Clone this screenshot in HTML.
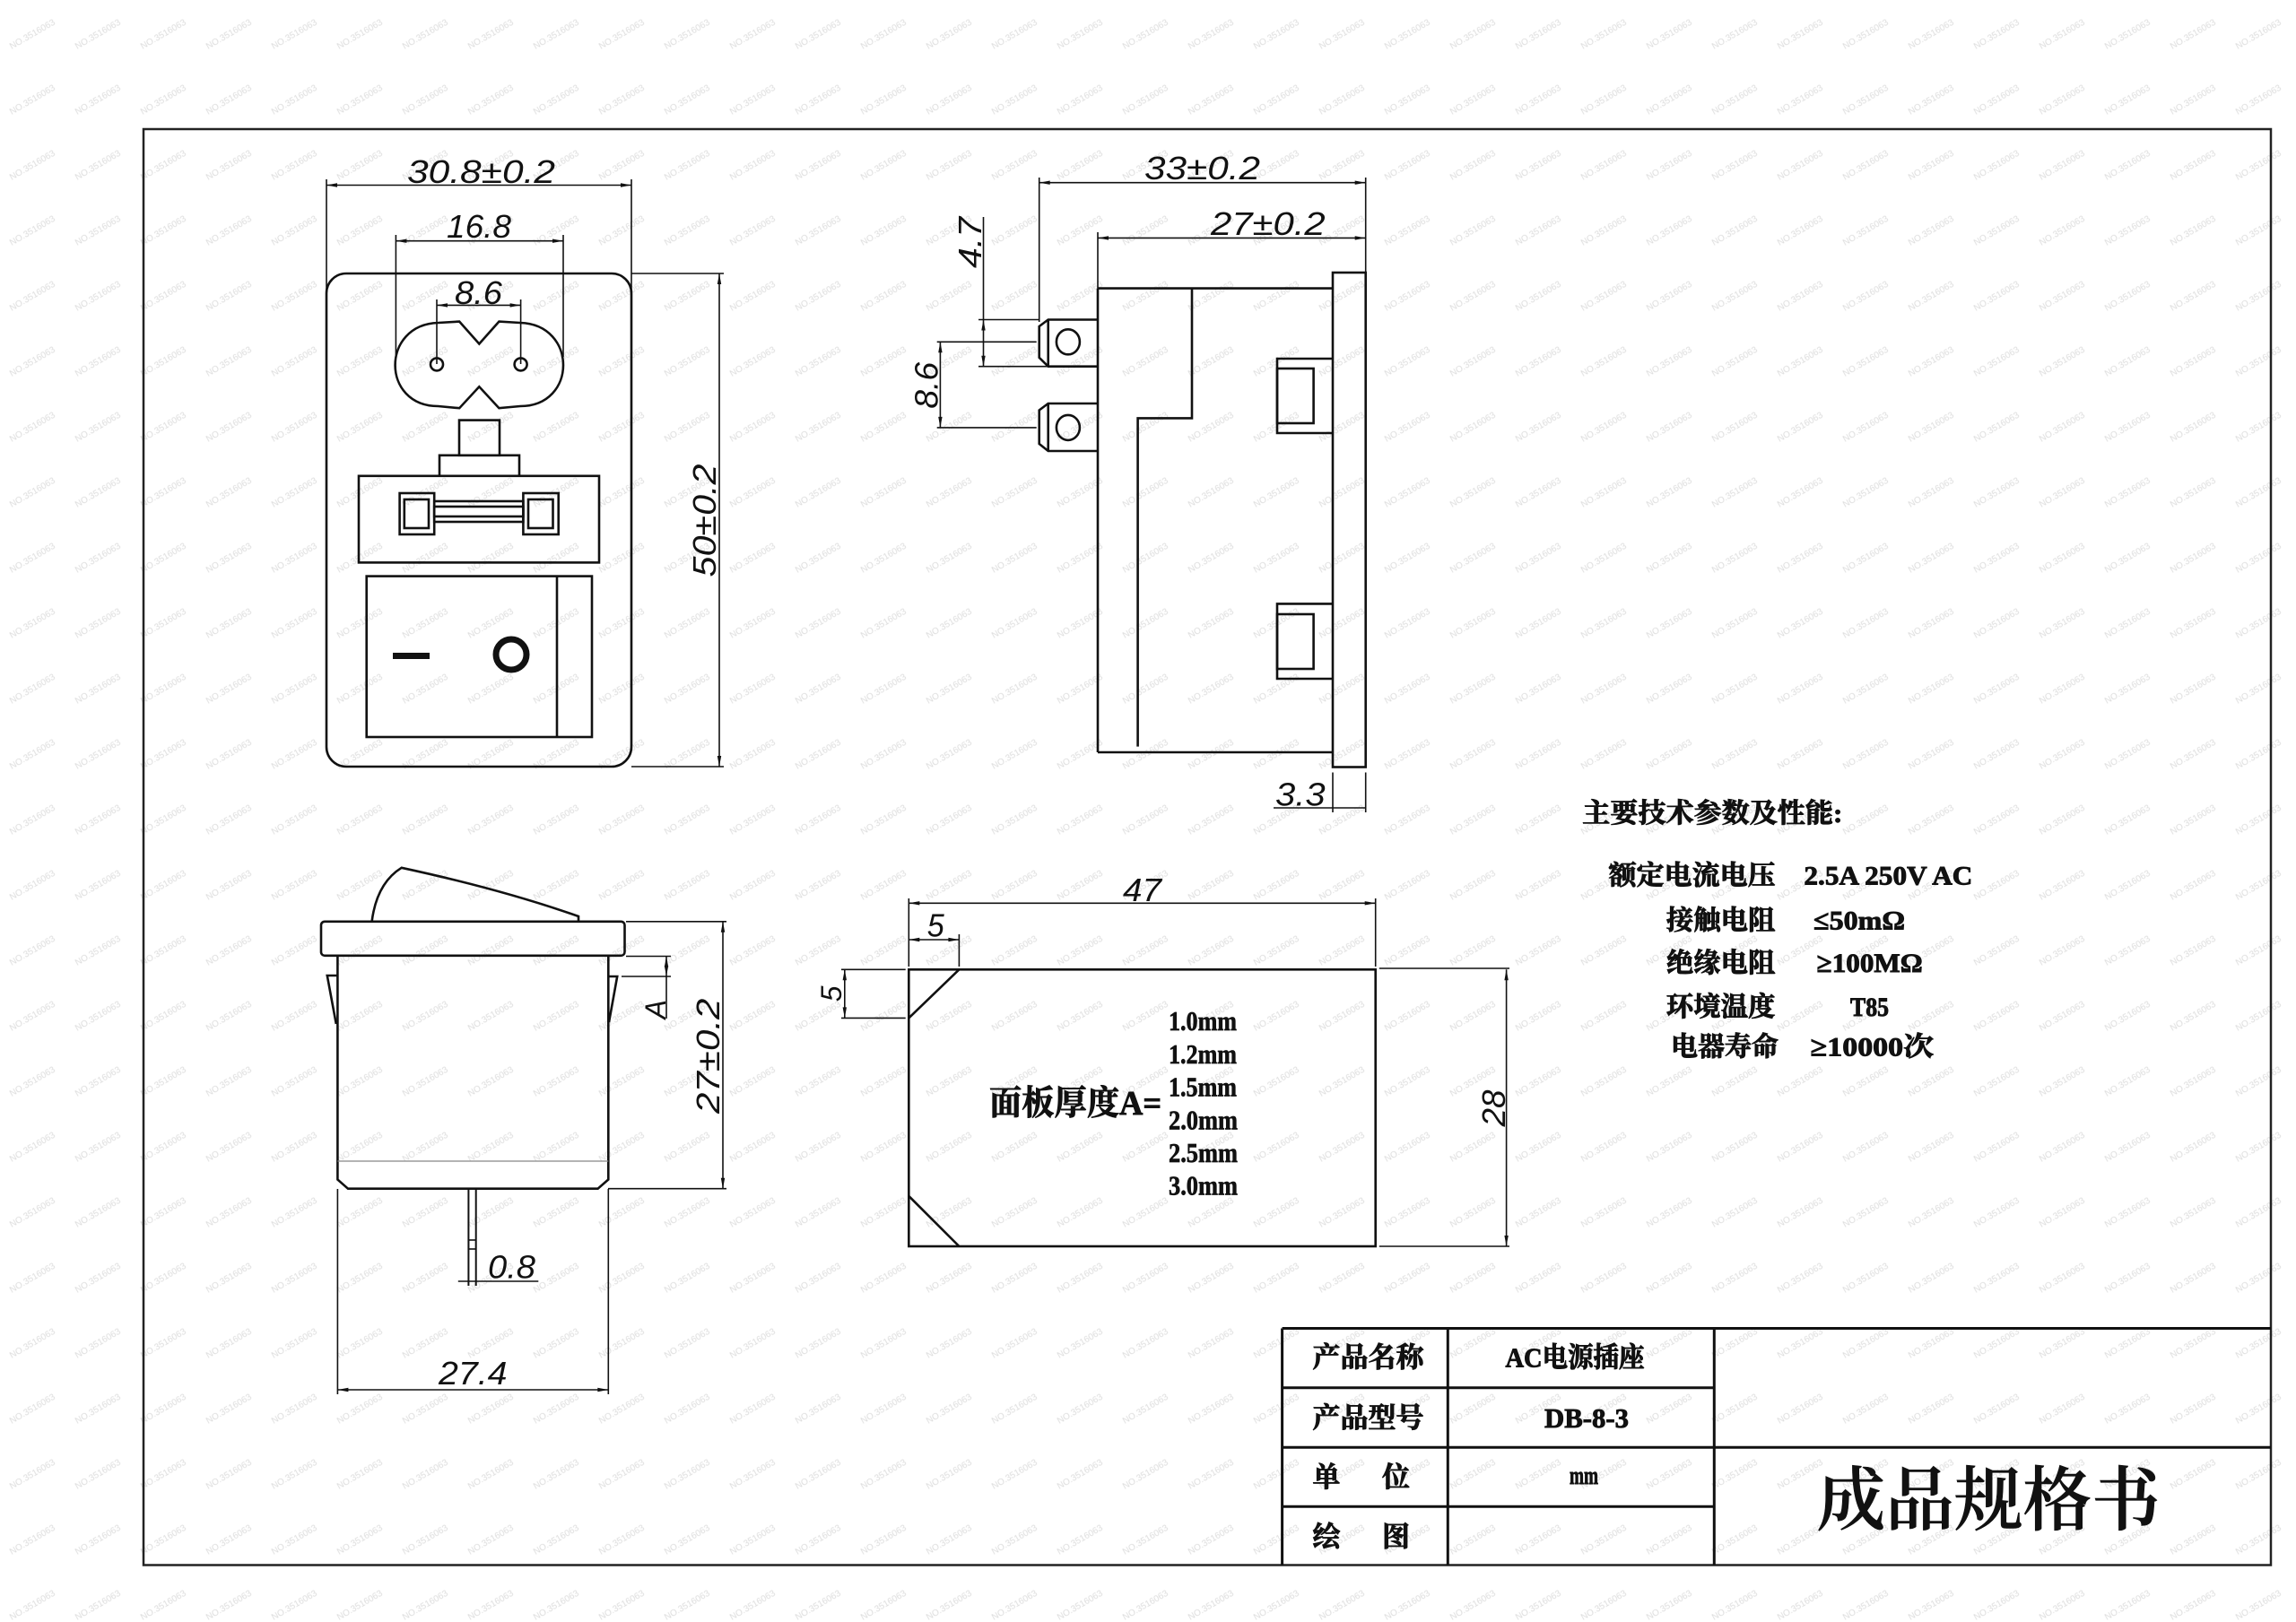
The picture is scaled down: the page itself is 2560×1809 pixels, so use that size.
<!DOCTYPE html>
<html><head><meta charset="utf-8"><style>
html,body{margin:0;padding:0;background:#fff;}
svg{display:block;}
.d{font-family:"Liberation Sans",sans-serif;font-style:italic;font-size:36px;fill:#111;}
.c{font-family:"Liberation Serif","Noto Serif CJK SC",serif;font-weight:700;fill:#111;stroke:#111;stroke-width:0.9px;}
.m{font-family:"Liberation Serif",serif;font-weight:700;fill:#111;stroke:#111;stroke-width:0.7px;}
</style></head><body>
<svg width="2560" height="1809" viewBox="0 0 2560 1809" xmlns="http://www.w3.org/2000/svg">
<defs>
<pattern id="wm" patternUnits="userSpaceOnUse" width="73" height="73" x="72.8" y="75.2">
<text x="36.5" y="36.5" transform="rotate(-30 36.5 36.5)" font-size="10" fill="#dcdcdc" text-anchor="middle" dominant-baseline="central" font-family="Liberation Sans, sans-serif">NO.3516063</text>
</pattern>
<marker id="ar" viewBox="-13 -3 14 6" refX="0" refY="0" markerWidth="14" markerHeight="6" markerUnits="userSpaceOnUse" orient="auto-start-reverse">
<path d="M0,0 L-12,-2.2 L-12,2.2 Z" fill="#111"/>
</marker>
</defs>
<rect width="2560" height="1809" fill="#fff"/>
<rect width="2560" height="1809" fill="url(#wm)"/>

<!-- frame -->
<rect x="160" y="144" width="2372" height="1601.5" fill="none" stroke="#222" stroke-width="2.5"/>

<!-- ============ FRONT VIEW ============ -->
<g fill="none" stroke="#111" stroke-width="2.6">
<rect x="364" y="305" width="340" height="550" rx="22"/>
<path d="M512.2 358.6 L534.3 383.5 L556.4 358.6 L580 360 C644 362 644 453 580 453 L556.4 455.2 L534.3 431.3 L512.2 455.2 L488.6 453 C424.6 453 424.6 362 488.6 360 Z"/>
<circle cx="487" cy="406.4" r="7"/>
<circle cx="580.6" cy="406.4" r="7"/>
<rect x="512" y="468.6" width="45" height="39.2"/>
<path d="M490 530.8 V507.8 H579 V530.8"/>
<rect x="400" y="530.8" width="268" height="96.6"/>
<rect x="445.6" y="550" width="38.6" height="46"/>
<rect x="450.8" y="557" width="27.2" height="32"/>
<rect x="583.4" y="550" width="39.3" height="46"/>
<rect x="589" y="557" width="27.5" height="32"/>
<rect x="484.2" y="559" width="99.2" height="23"/>
<rect x="484.2" y="565" width="99.2" height="11"/>
<rect x="408.7" y="642.6" width="251.3" height="179.4"/>
<line x1="621" y1="642.6" x2="621" y2="822"/>
<circle cx="570" cy="730" r="17" stroke-width="7"/>
</g>
<rect x="438" y="728" width="41" height="7" fill="#111"/>

<g fill="none" stroke="#111" stroke-width="1.6">
<line x1="364" y1="206.5" x2="704" y2="206.5" marker-start="url(#ar)" marker-end="url(#ar)"/>
<line x1="364" y1="200" x2="364" y2="327"/>
<line x1="704" y1="200" x2="704" y2="327"/>
<line x1="441.4" y1="268.7" x2="628" y2="268.7" marker-start="url(#ar)" marker-end="url(#ar)"/>
<line x1="441.4" y1="262" x2="441.4" y2="398"/>
<line x1="628" y1="262" x2="628" y2="398"/>
<line x1="487" y1="340.4" x2="580.6" y2="340.4" marker-start="url(#ar)" marker-end="url(#ar)"/>
<line x1="487" y1="334" x2="487" y2="406"/>
<line x1="580.6" y1="334" x2="580.6" y2="406"/>
<line x1="802" y1="305" x2="802" y2="855" marker-start="url(#ar)" marker-end="url(#ar)"/>
<line x1="704" y1="305" x2="807" y2="305"/>
<line x1="704" y1="855" x2="807" y2="855"/>
</g>
<text class="d" x="454" y="204" textLength="165" lengthAdjust="spacingAndGlyphs">30.8±0.2</text>
<text class="d" x="498" y="265" textLength="72" lengthAdjust="spacingAndGlyphs">16.8</text>
<text class="d" x="507" y="339" textLength="53" lengthAdjust="spacingAndGlyphs">8.6</text>
<text class="d" transform="translate(798,580.5) rotate(-90)" text-anchor="middle" textLength="126" lengthAdjust="spacingAndGlyphs">50±0.2</text>

<!-- ============ SIDE VIEW ============ -->
<g fill="none" stroke="#111" stroke-width="2.6">
<rect x="1486" y="304" width="36.7" height="551.5"/>
<path d="M1224 321.6 H1486 M1224 839 H1486 M1224 321.6 V839"/>
<path d="M1329 321.6 V466.4 H1268.6 V832.6"/>
<path d="M1486 400 H1424 V483 H1486"/>
<rect x="1424" y="411" width="40.6" height="61"/>
<path d="M1486 673.4 H1424 V757 H1486"/>
<rect x="1424" y="685" width="40.6" height="61"/>
<path d="M1224 356.5 H1168.7 L1158.7 364 V398.8 L1168.7 408.7 H1224"/>
<line x1="1168.7" y1="356.5" x2="1168.7" y2="408.7"/>
<ellipse cx="1190.9" cy="381.3" rx="13" ry="14"/>
<path d="M1224 450 H1168.7 L1158.7 457.5 V495 L1168.7 503 H1224"/>
<line x1="1168.7" y1="450" x2="1168.7" y2="503"/>
<ellipse cx="1190.9" cy="476.9" rx="13" ry="14"/>
</g>
<g fill="none" stroke="#111" stroke-width="1.6">
<line x1="1158.7" y1="203.7" x2="1522.7" y2="203.7" marker-start="url(#ar)" marker-end="url(#ar)"/>
<line x1="1224" y1="265.4" x2="1522.7" y2="265.4" marker-start="url(#ar)" marker-end="url(#ar)"/>
<line x1="1522.7" y1="198" x2="1522.7" y2="304"/>
<line x1="1158.7" y1="198" x2="1158.7" y2="359"/>
<line x1="1224" y1="259" x2="1224" y2="321.6"/>
<line x1="1096.5" y1="242" x2="1096.5" y2="356.5"/>
<line x1="1096.5" y1="356.5" x2="1096.5" y2="408.7" marker-start="url(#ar)" marker-end="url(#ar)"/>
<line x1="1091" y1="356.5" x2="1158" y2="356.5"/>
<line x1="1091" y1="408.7" x2="1168" y2="408.7"/>
<line x1="1048.4" y1="381.3" x2="1048.4" y2="476.9" marker-start="url(#ar)" marker-end="url(#ar)"/>
<line x1="1044.7" y1="381.3" x2="1155.7" y2="381.3"/>
<line x1="1044.7" y1="476.9" x2="1155.7" y2="476.9"/>
<line x1="1420" y1="901" x2="1522.7" y2="901"/>
<line x1="1486" y1="861.5" x2="1486" y2="906"/>
<line x1="1522.7" y1="861.5" x2="1522.7" y2="906"/>
</g>
<text class="d" x="1276" y="199.8" textLength="129" lengthAdjust="spacingAndGlyphs">33±0.2</text>
<text class="d" x="1350" y="262" textLength="127.6" lengthAdjust="spacingAndGlyphs">27±0.2</text>
<text class="d" transform="translate(1094,270.5) rotate(-90)" text-anchor="middle" textLength="57" lengthAdjust="spacingAndGlyphs">4.7</text>
<text class="d" transform="translate(1045.5,429.8) rotate(-90)" text-anchor="middle" textLength="52" lengthAdjust="spacingAndGlyphs">8.6</text>
<text class="d" x="1422" y="898.7" textLength="55.6" lengthAdjust="spacingAndGlyphs">3.3</text>

<!-- ============ BOTTOM-LEFT VIEW ============ -->
<g fill="none" stroke="#111" stroke-width="2.6">
<rect x="358" y="1027.8" width="338.5" height="38" rx="4"/>
<path d="M414.6 1027.8 Q420 985 447.7 967.8 Q560 992 645 1022 L645 1027.8"/>
<path d="M376.4 1065.7 V1315.5 L388 1325.7 H666.6 L678.3 1315.5 V1065.7"/>
<path d="M376.4 1088 H364.8 L374.8 1142"/>
<path d="M678.3 1089 H688.2 L679 1140"/>
<line x1="522.4" y1="1325.7" x2="522.4" y2="1434" stroke-width="2"/>
<line x1="530.7" y1="1325.7" x2="530.7" y2="1434" stroke-width="2"/>
<rect x="522.4" y="1383" width="8.3" height="10" stroke-width="1.6"/>
</g>
<line x1="376.4" y1="1295" x2="678.3" y2="1295" stroke="#888" stroke-width="1.2"/>
<g fill="none" stroke="#111" stroke-width="1.6">
<line x1="698" y1="1066.5" x2="748" y2="1066.5"/>
<line x1="693" y1="1089" x2="748" y2="1089"/>
<line x1="743" y1="1066.5" x2="743" y2="1089" marker-start="url(#ar)" marker-end="url(#ar)"/>
<line x1="743" y1="1089" x2="743" y2="1136"/>
<line x1="806" y1="1027.8" x2="806" y2="1325.7" marker-start="url(#ar)" marker-end="url(#ar)"/>
<line x1="698" y1="1027.8" x2="810" y2="1027.8"/>
<line x1="678" y1="1325.7" x2="810" y2="1325.7"/>
<line x1="510.8" y1="1429" x2="600.3" y2="1429"/>
<line x1="376.4" y1="1550" x2="678.3" y2="1550" marker-start="url(#ar)" marker-end="url(#ar)"/>
<line x1="376.4" y1="1326" x2="376.4" y2="1555"/>
<line x1="678.3" y1="1326" x2="678.3" y2="1555"/>
</g>
<text class="d" transform="translate(742,1125.7) rotate(-90)" text-anchor="middle" style="font-size:32px">A</text>
<text class="d" transform="translate(802,1177.8) rotate(-90)" text-anchor="middle" textLength="128.5" lengthAdjust="spacingAndGlyphs">27±0.2</text>
<text class="d" x="544" y="1425.7" textLength="53" lengthAdjust="spacingAndGlyphs">0.8</text>
<text class="d" x="489" y="1544" textLength="76.5" lengthAdjust="spacingAndGlyphs">27.4</text>

<!-- ============ PANEL CUTOUT ============ -->
<g fill="none" stroke="#111" stroke-width="2.6">
<rect x="1013.3" y="1081.3" width="520.4" height="308.7"/>
<line x1="1013.3" y1="1135.4" x2="1069.4" y2="1081.3"/>
<line x1="1013.3" y1="1333.9" x2="1069.4" y2="1390"/>
</g>
<g fill="none" stroke="#111" stroke-width="1.6">
<line x1="1013.3" y1="1007.3" x2="1533.7" y2="1007.3" marker-start="url(#ar)" marker-end="url(#ar)"/>
<line x1="1013.3" y1="1002" x2="1013.3" y2="1078"/>
<line x1="1533.7" y1="1002" x2="1533.7" y2="1078"/>
<line x1="1013.3" y1="1048" x2="1069.4" y2="1048" marker-start="url(#ar)" marker-end="url(#ar)"/>
<line x1="1069.4" y1="1042" x2="1069.4" y2="1078"/>
<line x1="941.8" y1="1081.3" x2="941.8" y2="1135.4" marker-start="url(#ar)" marker-end="url(#ar)"/>
<line x1="938" y1="1081.3" x2="1009.7" y2="1081.3"/>
<line x1="938" y1="1135.4" x2="1009.7" y2="1135.4"/>
<line x1="1679.6" y1="1081.3" x2="1679.6" y2="1390" marker-start="url(#ar)" marker-end="url(#ar)"/>
<line x1="1537.8" y1="1080" x2="1683" y2="1080"/>
<line x1="1537.8" y1="1390" x2="1683" y2="1390"/>
</g>
<text class="d" x="1252" y="1005" textLength="43" lengthAdjust="spacingAndGlyphs">47</text>
<text class="d" x="1033.7" y="1044.6" textLength="19" lengthAdjust="spacingAndGlyphs">5</text>
<text class="d" transform="translate(938,1108.4) rotate(-90)" text-anchor="middle" style="font-size:32px">5</text>
<text class="d" transform="translate(1678,1236) rotate(-90)" text-anchor="middle" textLength="41" lengthAdjust="spacingAndGlyphs">28</text>

<text class="c" x="1103" y="1231" dominant-baseline="central" font-size="38" textLength="192" lengthAdjust="spacingAndGlyphs">面板厚度A=</text>
<g class="m" font-size="31">
<text x="1303" y="1149.2" textLength="76" lengthAdjust="spacingAndGlyphs">1.0mm</text>
<text x="1303" y="1185.9" textLength="76" lengthAdjust="spacingAndGlyphs">1.2mm</text>
<text x="1303" y="1222.6" textLength="76" lengthAdjust="spacingAndGlyphs">1.5mm</text>
<text x="1303" y="1259.3" textLength="77" lengthAdjust="spacingAndGlyphs">2.0mm</text>
<text x="1303" y="1296" textLength="77" lengthAdjust="spacingAndGlyphs">2.5mm</text>
<text x="1303" y="1332.7" textLength="77" lengthAdjust="spacingAndGlyphs">3.0mm</text>
</g>

<!-- ============ SPECS ============ -->
<g class="c" font-size="30" dominant-baseline="central">
<text x="1764.3" y="907.4" textLength="290" lengthAdjust="spacingAndGlyphs">主要技术参数及性能:</text>
<text x="1793.6" y="977" textLength="186" lengthAdjust="spacingAndGlyphs">额定电流电压</text>
<text x="1857.9" y="1027" textLength="121.4" lengthAdjust="spacingAndGlyphs">接触电阻</text>
<text x="1857.9" y="1074.3" textLength="121.4" lengthAdjust="spacingAndGlyphs">绝缘电阻</text>
<text x="1857.9" y="1123.4" textLength="121.4" lengthAdjust="spacingAndGlyphs">环境温度</text>
<text x="1863" y="1168" textLength="120" lengthAdjust="spacingAndGlyphs">电器寿命</text>
<text x="2011.4" y="977" textLength="188" lengthAdjust="spacingAndGlyphs">2.5A 250V AC</text>
<text x="2022" y="1027" textLength="102" lengthAdjust="spacingAndGlyphs">≤50mΩ</text>
<text x="2025.7" y="1074.3" textLength="118" lengthAdjust="spacingAndGlyphs">≥100MΩ</text>
<text x="2063" y="1123.4" textLength="43" lengthAdjust="spacingAndGlyphs">T85</text>
<text x="2018.6" y="1168" textLength="137.5" lengthAdjust="spacingAndGlyphs">≥10000次</text>
</g>

<!-- ============ TITLE BLOCK ============ -->
<g stroke="#111" stroke-width="3" fill="none">
<line x1="1429.6" y1="1481.5" x2="2532" y2="1481.5"/>
<line x1="1429.6" y1="1481.5" x2="1429.6" y2="1745.5"/>
<line x1="1614.3" y1="1481.5" x2="1614.3" y2="1745.5"/>
<line x1="1911.3" y1="1481.5" x2="1911.3" y2="1745.5"/>
<line x1="1429.6" y1="1547.7" x2="1911.3" y2="1547.7"/>
<line x1="1429.6" y1="1614.3" x2="2532" y2="1614.3"/>
<line x1="1429.6" y1="1680.3" x2="1911.3" y2="1680.3"/>
</g>
<g class="c" font-size="31" dominant-baseline="central">
<text x="1463.5" y="1514" textLength="124" lengthAdjust="spacingAndGlyphs">产品名称</text>
<text x="1463.5" y="1581.5" textLength="124" lengthAdjust="spacingAndGlyphs">产品型号</text>
<text x="1463.5" y="1647.5">单</text>
<text x="1541" y="1647.5">位</text>
<text x="1463.5" y="1714">绘</text>
<text x="1541" y="1714">图</text>
<text x="1678.5" y="1514" textLength="155" lengthAdjust="spacingAndGlyphs">AC电源插座</text>
<text x="1722" y="1581.5" textLength="94" lengthAdjust="spacingAndGlyphs">DB-8-3</text>
<text x="1750" y="1646.6" textLength="32" lengthAdjust="spacingAndGlyphs" font-size="28">mm</text>
</g>
<text x="2025.6" y="1673.4" dominant-baseline="central" font-family="Liberation Serif, 'Noto Serif CJK SC', serif" font-size="78" font-weight="600" fill="#111" stroke="#111" stroke-width="0.6" textLength="383" lengthAdjust="spacingAndGlyphs">成品规格书</text>
</svg>
</body></html>
